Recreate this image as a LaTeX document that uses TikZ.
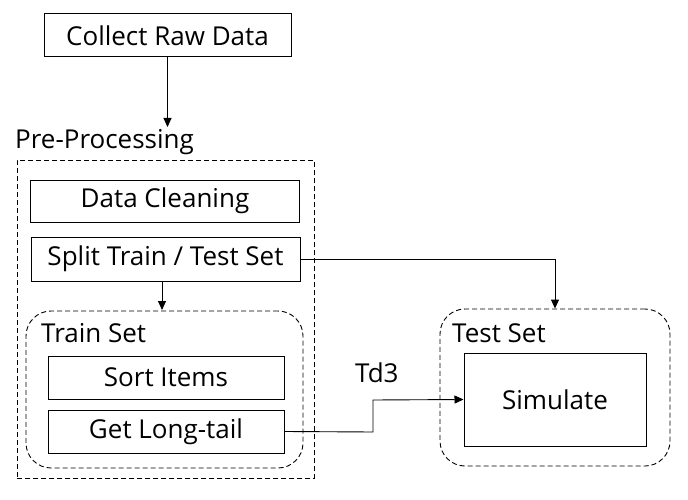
\documentclass[tikz,border=0pt]{standalone}
\usepackage{fontspec}
\setmainfont{Open Sans}
\usetikzlibrary{arrows.meta}
\begin{document}
\begin{tikzpicture}[x=1pt,y=-1pt,
  font=\fontsize{26}{30}\selectfont,
  box/.style={draw,line width=1pt,inner sep=0pt},
  grp/.style={draw,line width=0.9pt,dash pattern=on 5pt off 3pt},
  rgrp/.style={grp,rounded corners=25pt},
  lbl/.style={anchor=base west,inner sep=0pt},
  arr/.style={line width=0.9pt,-{Triangle[length=9pt,width=8pt]}}]
\useasboundingbox (0,0) rectangle (688,500);
% boxes
\node[box,minimum width=247pt,minimum height=43pt] (collect) at (167.5,35.5) {Collect Raw Data};
\node[grp,minimum width=297pt,minimum height=318pt,inner sep=0pt] (pre) at (165.5,319) {};
\node[lbl] (prelbl) at (15,149) {Pre-Processing};
\node[box,minimum width=269pt,minimum height=42pt] (clean) at (165,201) {Data Cleaning};
\node[box,minimum width=269pt,minimum height=44pt] (split) at (165.5,259) {Split Train / Test Set};
\node[rgrp,minimum width=277pt,minimum height=157pt,inner sep=0pt] (train) at (164.5,389.5) {};
\node[lbl] (trainlbl) at (41,342) {Train Set};
\node[box,minimum width=236pt,minimum height=43pt] (sort) at (166,377.5) {Sort Items};
\node[box,minimum width=236pt,minimum height=43pt] (long) at (166,431.5) {Get Long-tail};
\node[rgrp,minimum width=230pt,minimum height=157pt,inner sep=0pt] (test) at (555,387.5) {};
\node[lbl] (testlbl) at (452,342) {Test Set};
\node[box,minimum width=182pt,minimum height=93pt] (sim) at (555,399.5) {Simulate};
\node[lbl] (td3) at (355,382) {Td3};
% connectors
\draw[arr] (collect.south) -- (collect.south |- 0,127);
\draw[arr] (split.south -| 162,0) -- (162,310);
\draw[arr] (split.east) -| (test.north);
\coordinate (bend1) at (373,432);
\coordinate (bend2) at (373,400);
\draw[arr] (long.east) -- (bend1) -- (bend2) -- (sim.west);
\end{tikzpicture}
\end{document}
